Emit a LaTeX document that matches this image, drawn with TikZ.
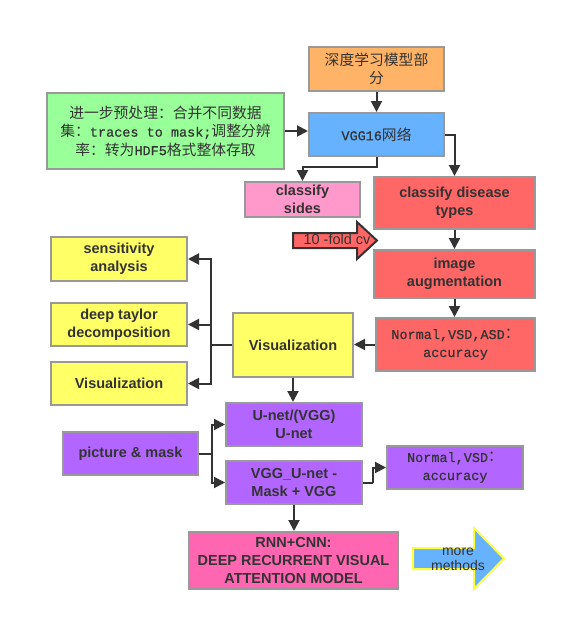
\documentclass[tikz,border=0pt]{standalone}
\usepackage{fontspec}
\setmainfont{Liberation Sans}
\newfontfamily\cjk{Noto Sans CJK SC}
\newfontfamily\mono[FakeBold=0.6]{Liberation Mono}
\usetikzlibrary{arrows.meta}
\definecolor{bordergray}{HTML}{999999}
\definecolor{ink}{HTML}{333333}
\definecolor{orangeF}{HTML}{FFB366}
\definecolor{blueF}{HTML}{66B2FF}
\definecolor{greenF}{HTML}{99FF99}
\definecolor{pinkF}{HTML}{FF99CC}
\definecolor{redF}{HTML}{FF6666}
\definecolor{yellowF}{HTML}{FFFF66}
\definecolor{purpleF}{HTML}{B266FF}
\definecolor{hotpinkF}{HTML}{FF66B2}
\definecolor{yellowB}{HTML}{FFFF33}
\tikzset{
  box/.style={draw=bordergray, line width=2pt, inner sep=0pt, align=center, text=ink,
    font=\fontsize{14.5}{18}\selectfont\bfseries},
  cbox/.style={box, font=\fontsize{14.8}{18.5}\selectfont},
  mbox/.style={box, font=\fontsize{13.5}{18}\selectfont\mono},
  conn/.style={draw=ink, line width=2pt, -{Triangle[length=11pt,width=11pt]}},
  line/.style={draw=ink, line width=2pt},
}
\begin{document}
\begin{tikzpicture}[x=1pt,y=-1pt]
\useasboundingbox (0,0) rectangle (567,621);
% boxes
\node[cbox, fill=orangeF, minimum width=135pt, minimum height=44pt] (deep) at (376.5,69) {{\cjk 深度学习模型部}\\{\cjk 分}};
\node[cbox, fill=blueF, minimum width=135pt, minimum height=43pt] (vgg) at (376.5,134.5) {{\mono\fontsize{13.5}{18}\selectfont VGG16}{\cjk 网络}};
\node[cbox, fill=greenF, minimum width=237pt, minimum height=76pt] (green) at (165.5,131)
 {{\cjk 进一步预处理：合并不同数据}\\{\cjk 集：}{\mono\fontsize{13.5}{18.5}\selectfont traces to mask;}{\cjk 调整分辨}\\{\cjk 率：转为}{\mono\fontsize{13.5}{18.5}\selectfont HDF5}{\cjk 格式整体存取}};
\node[box, fill=pinkF, minimum width=115pt, minimum height=35pt] (sides) at (302.5,199.5) {classify\\sides};
\node[box, fill=redF, minimum width=161pt, minimum height=52pt] (disease) at (454.5,203) {classify disease\\types};
\node[box, fill=redF, minimum width=161pt, minimum height=48pt] (aug) at (454.5,274) {image\\augmentation};
\node[mbox, fill=redF, minimum width=159pt, minimum height=53pt] (nvsdasd) at (455.5,344.5) {Normal,VSD,ASD{\cjk\fontsize{14.8}{18}\selectfont ：}\\accuracy};
\node[box, fill=yellowF, minimum width=120pt, minimum height=64pt] (vis) at (293,345) {Visualization};
\node[box, fill=yellowF, minimum width=136pt, minimum height=44pt] (sens) at (119,259) {sensitivity\\analysis};
\node[box, fill=yellowF, minimum width=136pt, minimum height=43pt] (taylor) at (119,324.5) {deep taylor\\decomposition};
\node[box, fill=yellowF, minimum width=136pt, minimum height=43pt] (vis2) at (119,383.5) {Visualization};
\node[box, fill=purpleF, minimum width=136pt, minimum height=43pt] (unet) at (294,424.5) {U-net/(VGG)\\U-net};
\node[box, fill=purpleF, minimum width=136pt, minimum height=43pt] (vggunet) at (294,482.5) {VGG\_U-net -\\Mask + VGG};
\node[box, fill=purpleF, minimum width=135pt, minimum height=43pt] (pic) at (130.5,453.5) {picture \& mask};
\node[mbox, fill=purpleF, minimum width=136pt, minimum height=43pt] (nvsd) at (455,467.5) {Normal,VSD{\cjk\fontsize{14.8}{18}\selectfont ：}\\accuracy};
\node[box, fill=hotpinkF, minimum width=209pt, minimum height=57pt] (rnn) at (293.5,560.5) {RNN+CNN:\\DEEP RECURRENT VISUAL\\ATTENTION MODEL};
% block arrows
\draw[draw=ink, line width=2pt, fill=redF, line join=miter] (293,233) -- (357,233) -- (357,222) -- (377,240.5) -- (357,259) -- (357,248) -- (293,248) -- cycle;
\node[text=ink, font=\fontsize{14.5}{16}\selectfont, inner sep=0pt] (cv) at (337,239.5) {10 -fold cv};
\draw[draw=yellowB, line width=2pt, fill=blueF, line join=miter] (413,548) -- (474,548) -- (474,528) -- (504,558.5) -- (474,589) -- (474,569) -- (413,569) -- cycle;
\node[text=ink, font=\fontsize{14}{15.5}\selectfont, inner sep=0pt, align=center] (more) at (458,559.5) {more\\methods};
% connectors
\draw[conn] (deep.south) -- (vgg.north);
\draw[conn] (green.east) -- (green.east -| vgg.west);
\draw[conn] (vgg.south) -- (376.5,167) -| (sides.north);
\draw[conn] (vgg.east) -| (disease.north);
\draw[conn] (disease.south) -- (aug.north);
\draw[conn] (aug.south) -- (aug.south |- nvsdasd.north);
\draw[conn] (nvsdasd.west) -- (nvsdasd.west -| vis.east);
\coordinate (br) at (211,345);
\draw[line] (vis.west) -- (br);
\draw[conn] (br) |- (sens.east);
\draw[conn] (br) |- (taylor.east);
\draw[conn] (br) |- (vis2.east);
\draw[conn] (vis.south) -- (vis.south |- unet.north);
\coordinate (pb) at (212,453.5);
\draw[line] (pic.east) -- (pb);
\draw[conn] (pb) |- (unet.west);
\draw[conn] (pb) |- (vggunet.west);
\coordinate (nb) at (373,482.5);
\draw[line] (vggunet.east) -- (nb);
\draw[conn] (nb) |- (nvsd.west);
\draw[conn] (vggunet.south) -- (vggunet.south |- rnn.north);
\end{tikzpicture}
\end{document}
